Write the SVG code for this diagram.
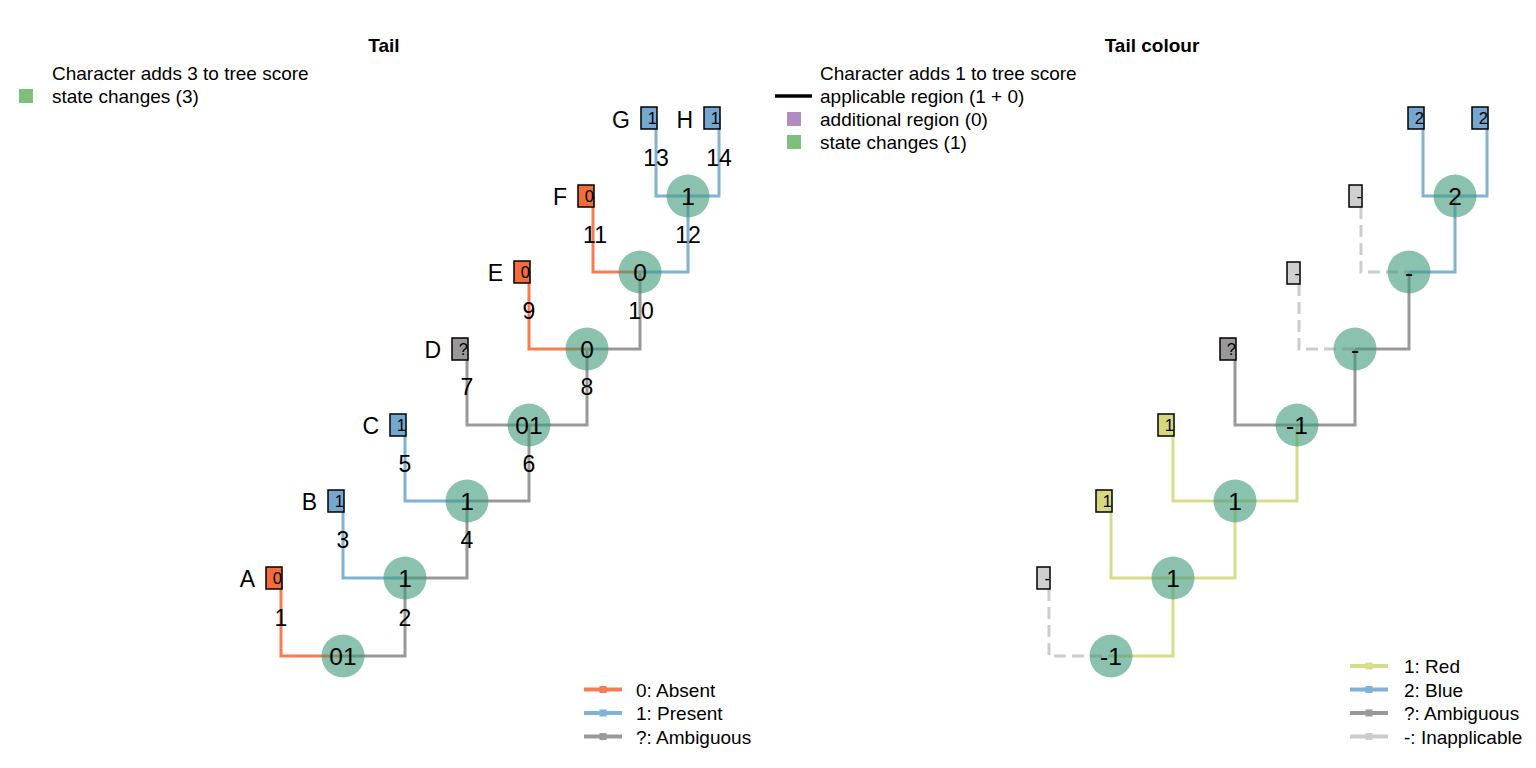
<svg xmlns="http://www.w3.org/2000/svg" width="1536" height="768" viewBox="0 0 1536 768">
<style>
text{font-family:"Liberation Sans",Arial,sans-serif;fill:#000}
.title{font-size:19px;font-weight:bold;text-anchor:middle}
.leg{font-size:19px}
.e{fill:none;stroke-width:3;stroke-linejoin:miter;stroke-linecap:butt}
.o{stroke:#f47d52}
.b{stroke:#7fb2d5}
.g{stroke:#999999}
.y{stroke:#d9dc8b}
.l{stroke:#cccccc;stroke-dasharray:12 6}
.node circle{fill:#3d9a7a;fill-opacity:0.6}
.nl{font-size:24.5px;text-anchor:middle}
.el{font-size:23px;text-anchor:middle}
.tl{font-size:23px;text-anchor:end}
.box{stroke:#000;stroke-width:1.5}
.bt{font-size:16.5px;text-anchor:end}
</style>
<text class="title" x="384" y="52">Tail</text>
<text class="title" x="1152" y="52">Tail colour</text>
<g id="legend-score-left">
<text class="leg" x="52" y="80">Character adds 3 to tree score</text>
<rect x="19" y="89" width="14" height="14" fill="#7fbf7b"/>
<text class="leg" x="52" y="103">state changes (3)</text>
</g>
<g id="legend-score-right">
<text class="leg" x="820" y="80">Character adds 1 to tree score</text>
<line x1="775" y1="96" x2="812" y2="96" stroke="#000" stroke-width="3.5"/>
<text class="leg" x="820" y="103">applicable region (1 + 0)</text>
<rect x="787" y="112" width="14" height="14" fill="#af8dc3"/>
<text class="leg" x="820" y="126">additional region (0)</text>
<rect x="787" y="135" width="14" height="14" fill="#7fbf7b"/>
<text class="leg" x="820" y="149">state changes (1)</text>
</g>
<g id="connectors">
<path class="e o" d="M281,578V656H343"/>
<path class="e g" d="M405,578V656H343"/>
<path class="e b" d="M343,501V578H405"/>
<path class="e g" d="M467,501V578H405"/>
<path class="e b" d="M405,425V501H467"/>
<path class="e g" d="M529,425V501H467"/>
<path class="e g" d="M467,349V425H529"/>
<path class="e g" d="M587,349V425H529"/>
<path class="e o" d="M529,272V349H587"/>
<path class="e g" d="M640,272V349H587"/>
<path class="e o" d="M593,196V272H640"/>
<path class="e b" d="M688,196V272H640"/>
<path class="e b" d="M656,118V196H688"/>
<path class="e b" d="M719,118V196H688"/>
<path class="e l" d="M1049,589V656H1111"/>
<path class="e y" d="M1173,578V656H1111"/>
<path class="e y" d="M1111,501V578H1173"/>
<path class="e y" d="M1235,501V578H1173"/>
<path class="e y" d="M1173,425V501H1235"/>
<path class="e y" d="M1297,425V501H1235"/>
<path class="e g" d="M1235,349V425H1297"/>
<path class="e g" d="M1355,349V425H1297"/>
<path class="e l" d="M1299,284V349H1355"/>
<path class="e g" d="M1409,272V349H1355"/>
<path class="e l" d="M1361,207V272H1409"/>
<path class="e b" d="M1455,196V272H1409"/>
<path class="e b" d="M1423,118V196H1455"/>
<path class="e b" d="M1487,118V196H1455"/>
</g>
<g id="edge-labels">
<text class="el" x="281" y="626">1</text>
<text class="el" x="405" y="626">2</text>
<text class="el" x="343" y="548">3</text>
<text class="el" x="467" y="548">4</text>
<text class="el" x="405" y="472">5</text>
<text class="el" x="529" y="472">6</text>
<text class="el" x="467" y="395">7</text>
<text class="el" x="587" y="395">8</text>
<text class="el" x="529" y="319">9</text>
<text class="el" x="641" y="319">10</text>
<text class="el" x="595" y="243">11</text>
<text class="el" x="688" y="243">12</text>
<text class="el" x="656" y="166">13</text>
<text class="el" x="719" y="166">14</text>
</g>
<g id="n-left-root" class="node"><circle cx="343" cy="656" r="21.5"/><text class="nl" x="343" y="665">01</text></g>
<g id="n-left-2" class="node"><circle cx="405" cy="578" r="21.5"/><text class="nl" x="405" y="587">1</text></g>
<g id="n-left-3" class="node"><circle cx="467" cy="501" r="21.5"/><text class="nl" x="467" y="510">1</text></g>
<g id="n-left-4" class="node"><circle cx="529" cy="425" r="21.5"/><text class="nl" x="529" y="434">01</text></g>
<g id="n-left-5" class="node"><circle cx="587" cy="349" r="21.5"/><text class="nl" x="587" y="358">0</text></g>
<g id="n-left-6" class="node"><circle cx="640" cy="272" r="21.5"/><text class="nl" x="640" y="281">0</text></g>
<g id="n-left-7" class="node"><circle cx="688" cy="196" r="21.5"/><text class="nl" x="688" y="205">1</text></g>
<g id="n-right-root" class="node"><circle cx="1111" cy="656" r="21.5"/><text class="nl" x="1111" y="665">-1</text></g>
<g id="n-right-2" class="node"><circle cx="1173" cy="578" r="21.5"/><text class="nl" x="1173" y="587">1</text></g>
<g id="n-right-3" class="node"><circle cx="1235" cy="501" r="21.5"/><text class="nl" x="1235" y="510">1</text></g>
<g id="n-right-4" class="node"><circle cx="1297" cy="425" r="21.5"/><text class="nl" x="1297" y="434">-1</text></g>
<g id="n-right-5" class="node"><circle cx="1355" cy="349" r="21.5"/><text class="nl" x="1355" y="358">-</text></g>
<g id="n-right-6" class="node"><circle cx="1409" cy="272" r="21.5"/><text class="nl" x="1409" y="281">-</text></g>
<g id="n-right-7" class="node"><circle cx="1455" cy="196" r="21.5"/><text class="nl" x="1455" y="205">2</text></g>
<g id="tip-A"><text class="tl" x="255" y="587">A</text><rect class="box" x="266" y="567" width="16" height="22" fill="#f26d3d"/><text class="bt" x="282" y="584">0</text></g>
<g id="tip-B"><text class="tl" x="317" y="510">B</text><rect class="box" x="328" y="490" width="16" height="22" fill="#74a8d0"/><text class="bt" x="344" y="507">1</text></g>
<g id="tip-C"><text class="tl" x="379" y="434">C</text><rect class="box" x="390" y="414" width="16" height="22" fill="#74a8d0"/><text class="bt" x="406" y="431">1</text></g>
<g id="tip-D"><text class="tl" x="441" y="358">D</text><rect class="box" x="452" y="338" width="16" height="22" fill="#999999"/><text class="bt" x="468" y="355">?</text></g>
<g id="tip-E"><text class="tl" x="503" y="281">E</text><rect class="box" x="514" y="261" width="16" height="22" fill="#f26d3d"/><text class="bt" x="530" y="278">0</text></g>
<g id="tip-F"><text class="tl" x="567" y="205">F</text><rect class="box" x="578" y="185" width="16" height="22" fill="#f26d3d"/><text class="bt" x="594" y="202">0</text></g>
<g id="tip-G"><text class="tl" x="630" y="128">G</text><rect class="box" x="641" y="107" width="16" height="22" fill="#74a8d0"/><text class="bt" x="657" y="124">1</text></g>
<g id="tip-H"><text class="tl" x="693" y="128">H</text><rect class="box" x="704" y="107" width="16" height="22" fill="#74a8d0"/><text class="bt" x="720" y="124">1</text></g>
<g id="tip-r1"><rect class="box" x="1037" y="567" width="13" height="22" fill="#cfcfcf"/><text class="bt" x="1050" y="584">-</text></g>
<g id="tip-r2"><rect class="box" x="1096" y="490" width="16" height="22" fill="#d6d880"/><text class="bt" x="1112" y="507">1</text></g>
<g id="tip-r3"><rect class="box" x="1158" y="414" width="16" height="22" fill="#d6d880"/><text class="bt" x="1174" y="431">1</text></g>
<g id="tip-r4"><rect class="box" x="1220" y="338" width="16" height="22" fill="#999999"/><text class="bt" x="1236" y="355">?</text></g>
<g id="tip-r5"><rect class="box" x="1287" y="262" width="13" height="22" fill="#cfcfcf"/><text class="bt" x="1300" y="279">-</text></g>
<g id="tip-r6"><rect class="box" x="1349" y="185" width="13" height="22" fill="#cfcfcf"/><text class="bt" x="1362" y="202">-</text></g>
<g id="tip-r7"><rect class="box" x="1408" y="107" width="16" height="22" fill="#74a8d0"/><text class="bt" x="1424" y="124">2</text></g>
<g id="tip-r8"><rect class="box" x="1472" y="107" width="16" height="22" fill="#74a8d0"/><text class="bt" x="1488" y="124">2</text></g>
<g id="legend-states-left">
<line x1="584" y1="689.5" x2="622" y2="689.5" stroke="#f47d52" stroke-width="4"/><rect x="599.5" y="686" width="7" height="7" fill="#f47d52"/>
<text class="leg" x="636" y="697">0: Absent</text>
<line x1="584" y1="713" x2="622" y2="713" stroke="#7fb2d5" stroke-width="4"/><rect x="599.5" y="709.5" width="7" height="7" fill="#7fb2d5"/>
<text class="leg" x="636" y="720">1: Present</text>
<line x1="584" y1="736.5" x2="622" y2="736.5" stroke="#999999" stroke-width="4"/><rect x="599.5" y="733" width="7" height="7" fill="#999999"/>
<text class="leg" x="636" y="744">?: Ambiguous</text>
</g>
<g id="legend-states-right">
<line x1="1350" y1="666" x2="1388" y2="666" stroke="#d9dc8b" stroke-width="4"/><rect x="1365.5" y="662.5" width="7" height="7" fill="#d9dc8b"/>
<text class="leg" x="1404" y="673">1: Red</text>
<line x1="1350" y1="689.5" x2="1388" y2="689.5" stroke="#7fb2d5" stroke-width="4"/><rect x="1365.5" y="686" width="7" height="7" fill="#7fb2d5"/>
<text class="leg" x="1404" y="697">2: Blue</text>
<line x1="1350" y1="713" x2="1388" y2="713" stroke="#999999" stroke-width="4"/><rect x="1365.5" y="709.5" width="7" height="7" fill="#999999"/>
<text class="leg" x="1404" y="720">?: Ambiguous</text>
<line x1="1350" y1="736.5" x2="1388" y2="736.5" stroke="#cccccc" stroke-width="4"/><rect x="1365.5" y="733" width="7" height="7" fill="#cccccc"/>
<text class="leg" x="1404" y="744">-: Inapplicable</text>
</g>
</svg>
